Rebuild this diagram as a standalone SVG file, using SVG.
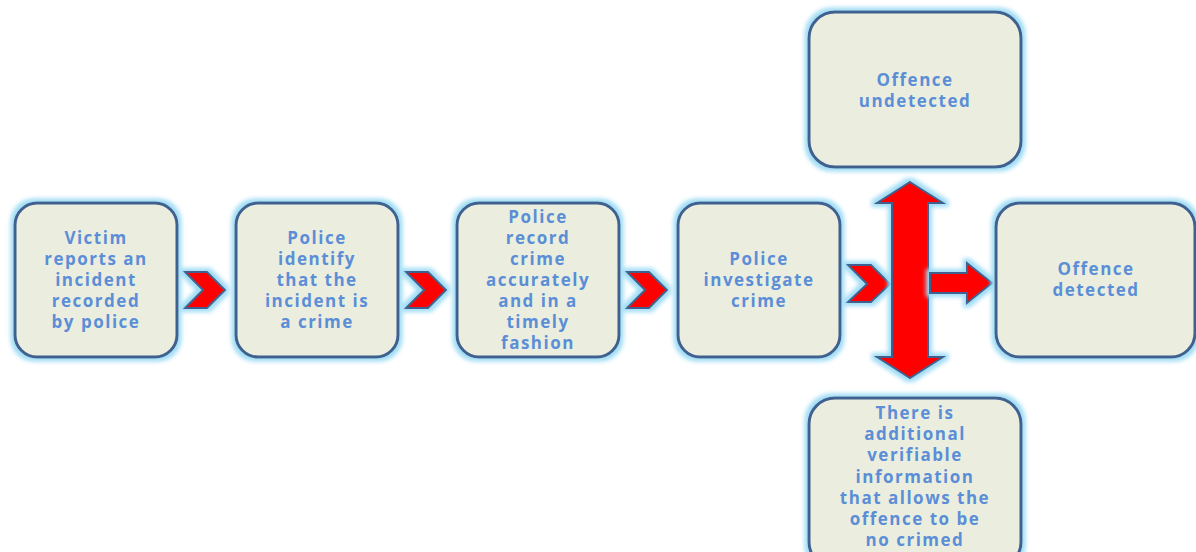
<svg xmlns="http://www.w3.org/2000/svg" width="1196" height="552" viewBox="0 0 1196 552">
<defs>
<filter id="glow" x="-20%" y="-20%" width="140%" height="140%">
<feMorphology in="SourceAlpha" operator="dilate" radius="3" result="d"/>
<feGaussianBlur in="d" stdDeviation="2" result="b"/>
<feFlood flood-color="#9fdcf5"/>
<feComposite in2="b" operator="in" result="g"/>
<feMerge><feMergeNode in="g"/><feMergeNode in="SourceGraphic"/></feMerge>
</filter>
</defs>
<style>
.box{fill:#ebeedf;stroke:#3f6190;stroke-width:3;filter:url(#glow)}
.arr{fill:#ff0000;stroke:#3f6190;stroke-width:2;stroke-linejoin:miter;filter:url(#glow)}
.t{font-family:"Open Sans","Liberation Sans",sans-serif;font-weight:bold;font-size:17px;letter-spacing:1.5px;fill:#5b8ed6;text-anchor:middle}
</style>
<rect width="1196" height="552" fill="#ffffff"/>
<g id="connectors">
<polygon class="arr" points="185,272 207,272 225,290 207,308 185,308 203,290"/>
<polygon class="arr" points="406,272 428,272 446,290 428,308 406,308 424,290"/>
<polygon class="arr" points="627,272 649,272 667,290 649,308 627,308 645,290"/>
<polygon class="arr" points="848,265 871,265 890,284 871,302 848,302 867,284"/>
<polygon class="arr" points="910,182 943,203 928,203 928,357 943,357 910,378 877,357 892,357 892,203 877,203"/>
<polygon class="arr" points="930,273 967,273 967,263 992,283 967,303 967,293 930,293"/>
</g>
<g id="n1"><rect class="box" x="15" y="203" width="162" height="154" rx="22"/>
<text class="t"><tspan x="96" y="244">Victim</tspan><tspan x="96" y="265">reports an</tspan><tspan x="96" y="286">incident</tspan><tspan x="96" y="307">recorded</tspan><tspan x="96" y="328">by police</tspan></text></g>
<g id="n2"><rect class="box" x="236" y="203" width="162" height="154" rx="22"/>
<text class="t"><tspan x="317" y="244">Police</tspan><tspan x="317" y="265">identify</tspan><tspan x="317" y="286">that the</tspan><tspan x="317" y="307">incident is</tspan><tspan x="317" y="328">a crime</tspan></text></g>
<g id="n3"><rect class="box" x="457" y="203" width="162" height="154" rx="22"/>
<text class="t"><tspan x="538" y="223">Police</tspan><tspan x="538" y="244">record</tspan><tspan x="538" y="265">crime</tspan><tspan x="538" y="286">accurately</tspan><tspan x="538" y="307">and in a</tspan><tspan x="538" y="328">timely</tspan><tspan x="538" y="349">fashion</tspan></text></g>
<g id="n4"><rect class="box" x="678" y="203" width="162" height="154" rx="22"/>
<text class="t"><tspan x="759" y="265">Police</tspan><tspan x="759" y="286">investigate</tspan><tspan x="759" y="307">crime</tspan></text></g>
<g id="n5"><rect class="box" x="996" y="203" width="199" height="154" rx="24"/>
<text class="t"><tspan x="1096" y="275">Offence</tspan><tspan x="1096" y="296">detected</tspan></text></g>
<g id="n6"><rect class="box" x="809" y="12" width="212" height="155" rx="26"/>
<text class="t"><tspan x="915" y="86">Offence</tspan><tspan x="915" y="107">undetected</tspan></text></g>
<g id="n7"><rect class="box" x="809" y="398" width="212" height="170" rx="26"/>
<text class="t"><tspan x="915" y="419">There is</tspan><tspan x="915" y="440">additional</tspan><tspan x="915" y="461">verifiable</tspan><tspan x="915" y="483">information</tspan><tspan x="915" y="504">that allows the</tspan><tspan x="915" y="525">offence to be</tspan><tspan x="915" y="546">no crimed</tspan></text></g>
</svg>
